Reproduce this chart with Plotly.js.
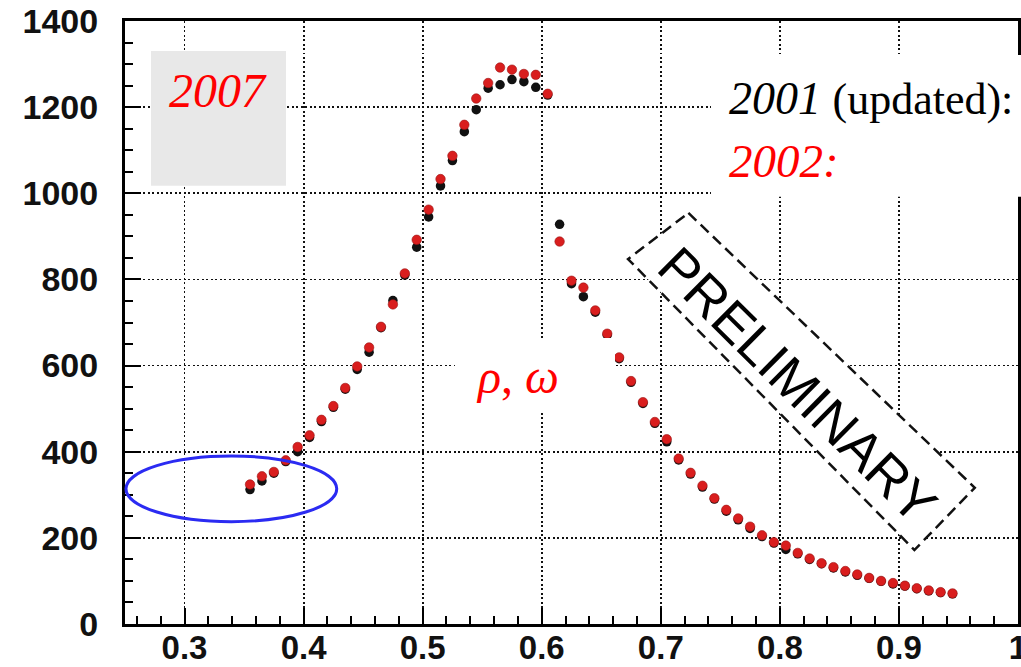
<!DOCTYPE html>
<html>
<head>
<meta charset="utf-8">
<script src="https://cdn.plot.ly/plotly-3.0.1.min.js"></script>
<style>
  html, body { margin: 0; padding: 0; background: #fff; }
  #chart { width: 1021px; height: 667px; }
</style>
</head>
<body>
<div id="chart"></div>
<script>
// Bin centres of the invariant-mass spectrum (0.01 wide bins)
const massBins = [
  0.355, 0.365, 0.375, 0.385, 0.395, 0.405, 0.415, 0.425, 0.435, 0.445,
  0.455, 0.465, 0.475, 0.485, 0.495, 0.505, 0.515, 0.525, 0.535, 0.545,
  0.555, 0.565, 0.575, 0.585, 0.595, 0.605, 0.615, 0.625, 0.635, 0.645,
  0.655, 0.665, 0.675, 0.685, 0.695, 0.705, 0.715, 0.725, 0.735, 0.745,
  0.755, 0.765, 0.775, 0.785, 0.795, 0.805, 0.815, 0.825, 0.835, 0.845,
  0.855, 0.865, 0.875, 0.885, 0.895, 0.905, 0.915, 0.925, 0.935, 0.945
];

// 2001 data set (updated)
const counts2001 = [
  312, 332, 350, 377, 400, 433, 470, 503, 545, 591,
  631, 688, 751, 810, 875, 945, 1017, 1076, 1143, 1194,
  1244, 1252, 1264, 1259, 1246, 1228, 928, 790, 760, 724,
  671, 616, 561, 512, 466, 423, 381, 348, 318, 290,
  262, 242, 222, 203, 188, 173, 163, 150, 140, 130,
  121, 113, 106, 99, 93, 88, 82, 77, 73, 70
];

// 2002 data set
const counts2002 = [
  324, 343, 353, 380, 411, 438, 474, 506, 548, 598,
  642, 690, 742, 814, 892, 962, 1033, 1087, 1159, 1220,
  1256, 1292, 1287, 1277, 1275, 1231, 888, 797, 781, 728,
  674, 619, 564, 515, 469, 429, 384, 351, 321, 292,
  265, 245, 226, 206, 190, 182, 165, 152, 141, 132,
  123, 115, 107, 100, 95, 89, 83, 78, 74, 71
];

const xTicks = [0.3, 0.4, 0.5, 0.6, 0.7, 0.8, 0.9, 1];
const yTicks = [0, 200, 400, 600, 800, 1000, 1200, 1400];

const SANS = 'Liberation Sans, Arial, Helvetica, sans-serif';
const SERIF = 'Liberation Serif, Times New Roman, serif';

const traces = [
  {
    name: '2001 (updated)',
    x: massBins, y: counts2001,
    type: 'scatter', mode: 'markers',
    marker: { color: '#111111', size: 9.5 },
    hoverinfo: 'x+y'
  },
  {
    name: '2002',
    x: massBins, y: counts2002,
    type: 'scatter', mode: 'markers',
    marker: { color: '#d91e1e', size: 9.5, line: { color: '#9a1414', width: 0.6 } },
    hoverinfo: 'x+y'
  }
];

const axisCommon = {
  showline: true, linecolor: '#000', linewidth: 3, mirror: true,
  ticks: 'inside', ticklen: 16, tickwidth: 2, tickcolor: '#000',
  showgrid: true, gridcolor: '#111', gridwidth: 1.8, griddash: '2px,2.5px',
  zeroline: false,
  ticklabeloverflow: 'allow'
};

const layout = {
  width: 1021, height: 667,
  margin: { l: 125, r: 3, t: 21, b: 43, pad: 0 },
  paper_bgcolor: '#fff', plot_bgcolor: '#fff',
  showlegend: false,
  xaxis: Object.assign({}, axisCommon, {
    range: [0.25, 1.0],
    tickvals: xTicks, ticktext: xTicks.map(String),
    tickfont: { family: SANS, size: 33, color: '#111', weight: 'bold' },
    ticklabelstandoff: -8,
    minor: { dtick: 0.02, tick0: 0, ticks: 'inside', ticklen: 8, tickwidth: 2, tickcolor: '#000', showgrid: false }
  }),
  yaxis: Object.assign({}, axisCommon, {
    range: [0, 1400],
    tickvals: yTicks, ticktext: yTicks.map(String),
    tickfont: { family: SANS, size: 34, color: '#111', weight: 'bold' },
    ticklabelstandoff: 17,
    minor: { dtick: 50, tick0: 0, ticks: 'inside', ticklen: 8, tickwidth: 2, tickcolor: '#000', showgrid: false }
  }),
  shapes: [
    // grey year panel
    { type: 'rect', xref: 'paper', yref: 'paper', layer: 'above',
      x0: 0.0291, x1: 0.1803, y0: 0.7269, y1: 0.9502,
      fillcolor: '#e8e8e8', line: { width: 0 } },
    // white key panel, top right
    { type: 'rect', xref: 'paper', yref: 'paper', layer: 'above',
      x0: 0.6562, x1: 1.01, y0: 0.7086, y1: 0.9436,
      fillcolor: '#ffffff', line: { width: 0 } },
    // white panel behind the resonance label
    { type: 'rect', xref: 'paper', yref: 'paper', layer: 'above',
      x0: 0.3695, x1: 0.5487, y0: 0.3499, y1: 0.4743,
      fillcolor: '#ffffff', line: { width: 0 } },
    // tilted dashed frame of the PRELIMINARY stamp
    { type: 'path', xref: 'paper', yref: 'paper', layer: 'above',
      path: 'M 0.6309 0.6817 L 0.9516 0.2259 L 0.8840 0.1227 L 0.5633 0.6052 Z',
      fillcolor: '#ffffff',
      line: { color: '#111', width: 2.5, dash: '11px,6px' } },
    // blue ellipse around the low-mass points
    { type: 'circle', xref: 'paper', yref: 'paper', layer: 'above',
      x0: 0.0011, x1: 0.2371, y0: 0.1697, y1: 0.2786,
      fillcolor: 'rgba(0,0,0,0)',
      line: { color: '#2b2bf2', width: 3 } }
  ],
  annotations: [
    { xref: 'paper', yref: 'paper', x: 0.1041, y: 0.8847,
      xanchor: 'center', yanchor: 'middle', showarrow: false,
      text: '<i>2007</i>',
      font: { family: SERIF, size: 48, color: '#ff0000' } },
    { xref: 'paper', yref: 'paper', x: 0.6745, y: 0.8723,
      xanchor: 'left', yanchor: 'middle', showarrow: false,
      text: '<i>2001</i> <span style="font-size:44px">(updated):</span>',
      font: { family: SERIF, size: 46, color: '#000' } },
    { xref: 'paper', yref: 'paper', x: 0.6745, y: 0.7683,
      xanchor: 'left', yanchor: 'middle', showarrow: false,
      text: '<i>2002:</i>',
      font: { family: SERIF, size: 47, color: '#ff0000' } },
    { xref: 'paper', yref: 'paper', x: 0.4395, y: 0.41,
      xanchor: 'center', yanchor: 'middle', showarrow: false,
      text: '<i>ρ</i>, <i>ω</i>',
      font: { family: SERIF, size: 48, color: '#ff0000' } },
    { xref: 'paper', yref: 'paper', x: 0.7535, y: 0.396,
      xanchor: 'center', yanchor: 'middle', showarrow: false,
      textangle: 44.7,
      text: 'PRELIMINARY',
      font: { family: SANS, size: 54, color: '#000' } }
  ]
};

Plotly.newPlot('chart', traces, layout, { displayModeBar: false, staticPlot: true });
</script>
</body>
</html>
